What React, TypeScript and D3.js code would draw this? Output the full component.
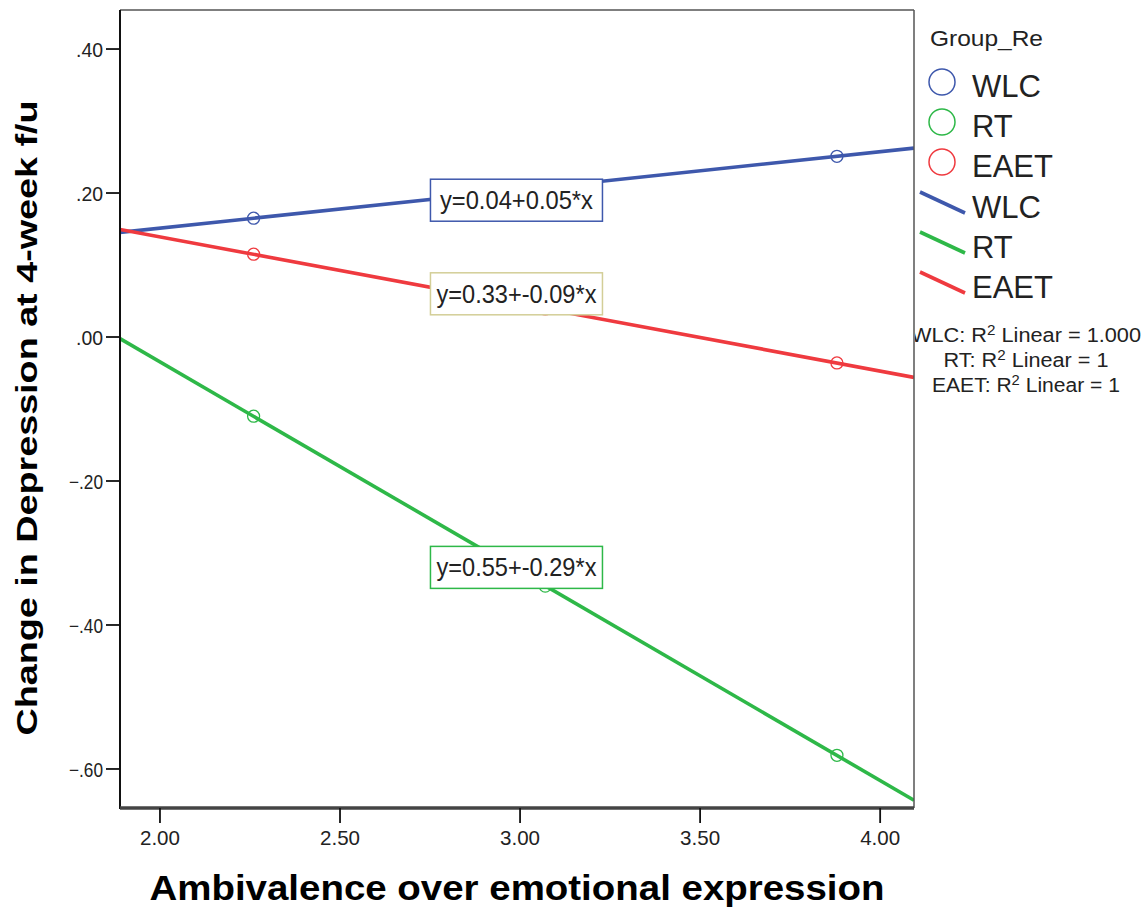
import React from "react";
import * as d3 from "d3";

const groups = ["WLC", "RT", "EAET"];
const colors = ["#3e58ac", "#2eb848", "#ef3a3f"];
const labelBorders = ["#3e58ac", "#2eb848", "#d3ce97"];
const xValues = [2.26, 3.07, 3.88];
const wlcValues = [0.165, 0.208, 0.251];
const rtValues = [-0.11, -0.346, -0.581];
const eaetValues = [0.115, 0.039, -0.036];
const seriesValues = [wlcValues, rtValues, eaetValues];
const equationLabels = ["y=0.04+0.05*x", "y=0.55+-0.29*x", "y=0.33+-0.09*x"];
const labelAnchorX = 2.99;
const labelAnchorY = [0.19, -0.32, 0.06];
const r2Labels = ["WLC: R", "RT: R", "EAET: R"];
const r2Values = [" Linear = 1.000", " Linear = 1", " Linear = 1"];
const xTicks = [2.0, 2.5, 3.0, 3.5, 4.0];
const yTicks = [0.4, 0.2, 0.0, -0.2, -0.4, -0.6];
const xDomain = [1.889, 4.094];
const yDomain = [-0.6542, 0.4542];

function fit(xs: number[], ys: number[]) {
  const mx = d3.mean(xs)!;
  const my = d3.mean(ys)!;
  let num = 0, den = 0;
  xs.forEach((x, i) => { num += (x - mx) * (ys[i] - my); den += (x - mx) ** 2; });
  const b = num / den;
  return { a: my - b * mx, b };
}

const fmtY = (v: number) => {
  const s = d3.format(".2f")(v);
  return s.replace("0.", ".");
};

export default function App() {
  const L = 120, R = 914, T = 10, B = 808;
  const x = d3.scaleLinear().domain(xDomain).range([L, R]);
  const y = d3.scaleLinear().domain(yDomain).range([B, T]);
  const fonts = "'Liberation Sans', Arial, sans-serif";
  const r2Lengths = [230, 165, 188];

  return (
    <svg width={1147} height={910} style={{ position: "absolute", left: 0, top: 0, background: "#fff" }} fontFamily={fonts}>
      <defs>
        <clipPath id="plot"><rect x={L} y={T} width={R - L} height={B - T} /></clipPath>
        <clipPath id="legendclip"><rect x={R + 1} y={0} width={1147 - R} height={910} /></clipPath>
      </defs>
      <rect x={0} y={0} width={1147} height={910} fill="#fff" />
      <g clipPath="url(#plot)">
        {seriesValues.map((vals, i) => {
          const f = fit(xValues, vals);
          const line = d3.line<number>().x(d => x(d)).y(d => y(f.a + f.b * d));
          return <path key={i} d={line(xDomain) || ""} stroke={colors[i]} strokeWidth={3.6} fill="none" />;
        })}
        {seriesValues.map((vals, i) =>
          vals.map((v, j) => (
            <circle key={`${i}-${j}`} cx={x(xValues[j])} cy={y(v)} r={6} fill="none" stroke={colors[i]} strokeWidth={1.3} />
          ))
        )}
      </g>
      {[0, 2, 1].map(i => {
        const cx = x(labelAnchorX);
        const cy = y(labelAnchorY[i]);
        const w = 172, h = 42;
        return (
          <g key={i}>
            <rect x={cx - w / 2} y={cy - h / 2} width={w} height={h} fill="#fff" stroke={labelBorders[i]} strokeWidth={1.5} />
            <text x={cx} y={cy + 9} textAnchor="middle" fontSize={25} fill="#222" textLength={i === 0 ? 153 : 160} lengthAdjust="spacingAndGlyphs">{equationLabels[i]}</text>
          </g>
        );
      })}
      <line x1={L} y1={T} x2={R} y2={T} stroke="#555" strokeWidth={1.5} />
      <line x1={R} y1={T} x2={R} y2={B} stroke="#555" strokeWidth={1.5} />
      <line x1={L} y1={T} x2={L} y2={B + 1} stroke="#111" strokeWidth={2} />
      <line x1={L} y1={B} x2={R} y2={B} stroke="#444" strokeWidth={3.5} />
      {yTicks.map(t => (
        <g key={t}>
          <line x1={L - 14} x2={L} y1={y(t)} y2={y(t)} stroke="#111" strokeWidth={1.8} />
          <text x={103} y={y(t) + 8} textAnchor="end" fontSize={20} fill="#222" textLength={t < 0 ? 34 : 27} lengthAdjust="spacingAndGlyphs">{fmtY(t)}</text>
        </g>
      ))}
      {xTicks.map(t => (
        <g key={t}>
          <line x1={x(t)} x2={x(t)} y1={B} y2={B + 15} stroke="#111" strokeWidth={1.8} />
          <text x={x(t)} y={845} textAnchor="middle" fontSize={21} fill="#222" textLength={40} lengthAdjust="spacingAndGlyphs">{d3.format(".2f")(t)}</text>
        </g>
      ))}
      <text x={517} y={900} textAnchor="middle" fontSize={35} fontWeight="bold" fill="#000" textLength={735} lengthAdjust="spacingAndGlyphs">Ambivalence over emotional expression</text>
      <text transform="translate(37,418) rotate(-90)" textAnchor="middle" fontSize={30} fontWeight="bold" fill="#000" textLength={635} lengthAdjust="spacingAndGlyphs">Change in Depression at 4-week f/u</text>
      <text x={930} y={46} fontSize={22} fill="#222" textLength={113} lengthAdjust="spacingAndGlyphs">Group_Re</text>
      {groups.map((g, i) => (
        <g key={`c${g}`}>
          <circle cx={942} cy={82 + i * 40} r={13} fill="none" stroke={colors[i]} strokeWidth={1.5} />
          <text x={972} y={97 + i * 40} fontSize={31} fill="#222">{g}</text>
        </g>
      ))}
      {groups.map((g, i) => (
        <g key={`l${g}`}>
          <line x1={920} y1={192 + i * 40} x2={965} y2={213 + i * 40} stroke={colors[i]} strokeWidth={3.6} />
          <text x={972} y={218 + i * 40} fontSize={31} fill="#222">{g}</text>
        </g>
      ))}
      <g clipPath="url(#legendclip)">
        {r2Labels.map((lab, i) => (
          <text key={lab} x={1026} y={342 + i * 25} textAnchor="middle" fontSize={20} fill="#222" textLength={r2Lengths[i]} lengthAdjust="spacingAndGlyphs">
            {lab}
            <tspan dy={-7} fontSize={14}>2</tspan>
            <tspan dy={7}>{r2Values[i]}</tspan>
          </text>
        ))}
      </g>
    </svg>
  );
}
